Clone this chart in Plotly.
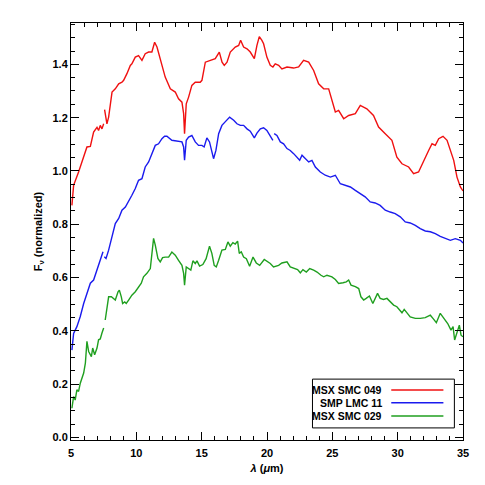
import plotly.graph_objects as go

# wavelength (micron) and normalized flux; None marks the gap between spectral orders
red_wl = [5.07, 5.20, 5.58, 5.97, 6.22, 6.48, 6.73, 6.99, 7.11, 7.24, 7.37, 7.50, None,
          7.57, 7.75, 7.88, 8.14, 8.39, 8.65, 8.90, 9.03, 9.28, 9.54,
          9.66, 9.92, 10.17, 10.43, 10.68, 10.94, 11.19, 11.40, 11.58, 11.96,
          12.21, 12.60, 12.98, 13.23, 13.49, 13.62, 13.69, 13.82, 14.00, 14.25,
          14.51, 14.89, 15.02, 15.28, 15.66, 16.04, 16.35, 16.56, 16.73, 16.94,
          17.19, 17.57, 17.83, 17.98, 18.21, 18.47, 18.72, 19.03, 19.23, 19.41,
          19.61, 19.74, 19.99, 20.25, 20.45, 20.63, 20.89, 21.14, 21.53, 22.04,
          22.42, 22.80, 23.19, 23.57, 23.95, 24.34, 24.72, 24.97, 25.23, 25.48,
          25.87, 26.25, 26.76, 27.14, 27.64, 28.15, 28.54, 29.05, 29.56, 29.94,
          30.33, 30.84, 31.22, 31.60, 31.99, 32.37, 32.63, 32.88, 33.14, 33.47,
          33.78, 34.08, 34.29, 34.54, 34.80, 35.00]
red_f = [0.871, 0.946, 0.996, 1.052, 1.090, 1.092, 1.146, 1.164, 1.152, 1.171, 1.158, 1.177, None,
         1.230, 1.177, 1.202, 1.296, 1.308, 1.327, 1.333, 1.340, 1.365, 1.396,
         1.402, 1.427, 1.433, 1.415, 1.440, 1.446, 1.446, 1.483, 1.465, 1.402,
         1.352, 1.308, 1.296, 1.271, 1.258, 1.215, 1.140, 1.252, 1.277, 1.321,
         1.333, 1.333, 1.340, 1.408, 1.415, 1.421, 1.446, 1.408, 1.396, 1.408,
         1.446, 1.465, 1.471, 1.490, 1.465, 1.458, 1.446, 1.421, 1.471, 1.504,
         1.490, 1.477, 1.427, 1.396, 1.390, 1.402, 1.396, 1.383, 1.390, 1.386,
         1.390, 1.415, 1.408, 1.377, 1.327, 1.308, 1.308, 1.265, 1.221, 1.227,
         1.196, 1.208, 1.215, 1.246, 1.233, 1.208, 1.165, 1.140, 1.115, 1.052,
         1.027, 1.015, 0.990, 0.996, 1.040, 1.077, 1.102, 1.096, 1.121, 1.130,
         1.115, 1.071, 1.040, 0.977, 0.940, 0.925]

blue_wl = [5.07, 5.20, 5.45, 5.71, 5.97, 6.22, 6.48, 6.73, 6.99, 7.24, 7.45, None,
           7.55, 7.68, 7.88, 8.14, 8.39, 8.65, 8.90, 9.16, 9.41, 9.66,
           9.92, 10.17, 10.43, 10.68, 10.94, 11.19, 11.45, 11.70, 11.96, 12.16,
           12.34, 12.72, 12.98, 13.23, 13.49, 13.62, 13.69, 13.82, 14.00, 14.25,
           14.51, 14.76, 15.02, 15.19, 15.40, 15.60, 15.78, 15.91, 16.09, 16.30,
           16.55, 16.81, 17.14, 17.45, 17.70, 17.96, 18.21, 18.47, 18.72, 19.03,
           19.23, 19.49, 19.74, 19.99, 20.25, 20.45, None,
           20.55, 20.76, 21.02, 21.27, 21.53, 21.78, 22.04, 22.29, 22.50, 22.68,
           22.93, 23.19, 23.44, 23.70, 24.08, 24.46, 24.85, 25.23, 25.61, 26.00,
           26.38, 26.76, 27.14, 27.51, 27.90, 28.28, 28.66, 29.05, 29.43, 29.81,
           30.20, 30.58, 30.96, 31.35, 31.73, 32.11, 32.50, 32.88, 33.26, 33.65,
           34.03, 34.41, 34.80, 35.00]
blue_f = [0.328, 0.391, 0.416, 0.454, 0.503, 0.541, 0.579, 0.591, 0.628, 0.666, 0.697, None,
          0.678, 0.672, 0.703, 0.753, 0.803, 0.822, 0.853, 0.865, 0.890, 0.909,
          0.934, 0.965, 0.971, 1.015, 1.034, 1.065, 1.096, 1.102, 1.121, 1.130,
          1.130, 1.115, 1.113, 1.109, 1.109, 1.090, 1.040, 1.115, 1.127, 1.133,
          1.109, 1.096, 1.096, 1.090, 1.124, 1.109, 1.071, 1.046, 1.077, 1.140,
          1.171, 1.183, 1.202, 1.190, 1.177, 1.171, 1.171, 1.158, 1.149, 1.124,
          1.142, 1.158, 1.162, 1.152, 1.133, 1.115, None,
          1.140, 1.133, 1.109, 1.102, 1.084, 1.077, 1.065, 1.052, 1.040, 1.059,
          1.046, 1.034, 1.040, 1.015, 0.996, 0.984, 0.977, 0.984, 0.952, 0.946,
          0.940, 0.927, 0.915, 0.903, 0.884, 0.880, 0.871, 0.853, 0.846, 0.840,
          0.828, 0.809, 0.805, 0.796, 0.784, 0.775, 0.772, 0.765, 0.755, 0.746,
          0.740, 0.746, 0.740, 0.730]

green_wl = [5.07, 5.20, 5.32, 5.45, 5.58, 5.71, 5.97, 6.10, 6.22, 6.35,
            6.56, 6.66, 6.81, 6.99, 7.11, 7.24, 7.37, 7.50, None,
            7.62, 7.75, 7.88, 8.09, 8.27, 8.39, 8.60, 8.70, 8.85, 8.95,
            9.11, 9.23, 9.41, 9.66, 9.92, 10.17, 10.38, 10.55, 10.81, 11.07,
            11.19, 11.32, 11.45, 11.65, 11.83, 12.01, 12.21, 12.47, 12.72, 12.98,
            13.23, 13.49, 13.62, 13.69, 13.82, 14.00, 14.17, 14.33, 14.51, 14.64,
            14.84, 15.09, 15.34, 15.60, 15.78, 15.96, 16.12, 16.30, 16.55, 16.81,
            17.01, 17.19, 17.39, 17.57, 17.75, 17.88, 18.03, 18.21, 18.42, 18.67,
            18.93, 19.18, 19.44, 19.79, 20.25, 20.50, 20.89, 21.14, 21.53, 21.78,
            22.04, 22.34, 22.55, 22.75, 23.01, 23.27, 23.57, 23.83, 24.13, 24.34,
            24.59, 24.97, 25.23, 25.48, 25.82, 26.07, 26.25, 26.43, 26.76, 27.02,
            27.19, 27.40, 27.59, 27.84, 28.10, 28.28, 28.46, 28.66, 28.92, 29.18,
            29.48, 29.69, 29.94, 30.33, 30.50, 30.71, 30.96, 31.35, 31.73, 32.11,
            32.50, 32.70, 32.96, 33.26, 33.52, 33.83, 34.08, 34.24, 34.36, 34.54,
            34.72, 34.85, 35.00]
green_f = [0.110, 0.154, 0.141, 0.179, 0.173, 0.204, 0.242, 0.279, 0.361, 0.323,
           0.304, 0.336, 0.311, 0.336, 0.367, 0.370, 0.392, 0.411, None,
           0.441, 0.478, 0.528, 0.528, 0.522, 0.516, 0.547, 0.553, 0.528, 0.503,
           0.509, 0.503, 0.516, 0.534, 0.547, 0.566, 0.579, 0.603, 0.616, 0.634,
           0.691, 0.747, 0.722, 0.672, 0.659, 0.675, 0.677, 0.677, 0.696, 0.684,
           0.665, 0.646, 0.616, 0.572, 0.640, 0.634, 0.628, 0.663, 0.653, 0.663,
           0.643, 0.649, 0.671, 0.718, 0.691, 0.646, 0.640, 0.665, 0.703, 0.706,
           0.734, 0.718, 0.731, 0.726, 0.737, 0.691, 0.697, 0.677, 0.671, 0.643,
           0.677, 0.655, 0.646, 0.668, 0.653, 0.640, 0.646, 0.655, 0.659, 0.640,
           0.634, 0.630, 0.618, 0.630, 0.621, 0.634, 0.628, 0.621, 0.609, 0.603,
           0.609, 0.603, 0.593, 0.578, 0.581, 0.584, 0.591, 0.572, 0.566, 0.559,
           0.528, 0.516, 0.522, 0.531, 0.503, 0.522, 0.541, 0.522, 0.518, 0.522,
           0.509, 0.497, 0.491, 0.468, 0.481, 0.466, 0.453, 0.447, 0.447, 0.450,
           0.459, 0.447, 0.431, 0.466, 0.447, 0.428, 0.403, 0.416, 0.366, 0.397,
           0.422, 0.384, 0.378]

names = ["MSX SMC 049", "SMP LMC 11", "MSX SMC 029"]
colors = ["#f01010", "#1a1aee", "#1f9f1f"]

font = "Liberation Sans"

fig = go.Figure()
for wl, f, name, col in zip([red_wl, blue_wl, green_wl], [red_f, blue_f, green_f], names, colors):
    fig.add_trace(go.Scatter(x=wl, y=f, mode="lines", name=name,
                             line=dict(color=col, width=1.4), showlegend=False))

axis_common = dict(
    showline=True, linecolor="black", linewidth=1, mirror="allticks",
    ticks="inside", ticklen=8, tickwidth=1, tickcolor="black",
    showgrid=False, zeroline=False,
    tickfont=dict(family=font, size=11, color="black", weight="bold"),
)
fig.update_xaxes(range=[5, 35], dtick=5, tick0=5, ticklabelstandoff=3,
                 minor=dict(ticks="inside", ticklen=4, dtick=1, tickcolor="black", showgrid=False),
                 title=dict(text="<i>λ</i> (<i>μ</i>m)", standoff=6,
                            font=dict(family=font, size=11, color="black", weight="bold")),
                 **axis_common)
fig.update_yaxes(range=[-0.009, 1.555], dtick=0.2, tick0=0, tickformat=".1f",
                 minor=dict(ticks="inside", ticklen=4, dtick=0.05, tickcolor="black", showgrid=False),
                 title=dict(text="F<sub>ν</sub> (normalized)", standoff=7,
                            font=dict(family=font, size=11, color="black", weight="bold")),
                 **axis_common)

# legend box drawn by hand (text right-aligned, line sample on the right)
fig.add_shape(type="rect", xref="paper", yref="paper", x0=0.616, x1=0.978, y0=0.029, y1=0.146,
              line=dict(color="black", width=1), fillcolor="white")
row_y = [0.120, 0.0894, 0.0575]
for name, col, yy in zip(names, colors, row_y):
    fig.add_annotation(x=0.799, y=yy, xref="paper", yref="paper", text=name, showarrow=False,
                       xanchor="right", yanchor="middle",
                       font=dict(family=font, size=10.5, color="black", weight="bold"))
    fig.add_shape(type="line", xref="paper", yref="paper", x0=0.817, x1=0.950, y0=yy, y1=yy,
                  line=dict(color=col, width=1.4))

# the page body adds an 8px offset, so the figure is a little smaller than the window
fig.update_layout(
    width=477, height=477,
    margin=dict(l=63, r=22, t=15, b=45),
    plot_bgcolor="white", paper_bgcolor="white",
    showlegend=False,
)

fig.write_html("out.html")
